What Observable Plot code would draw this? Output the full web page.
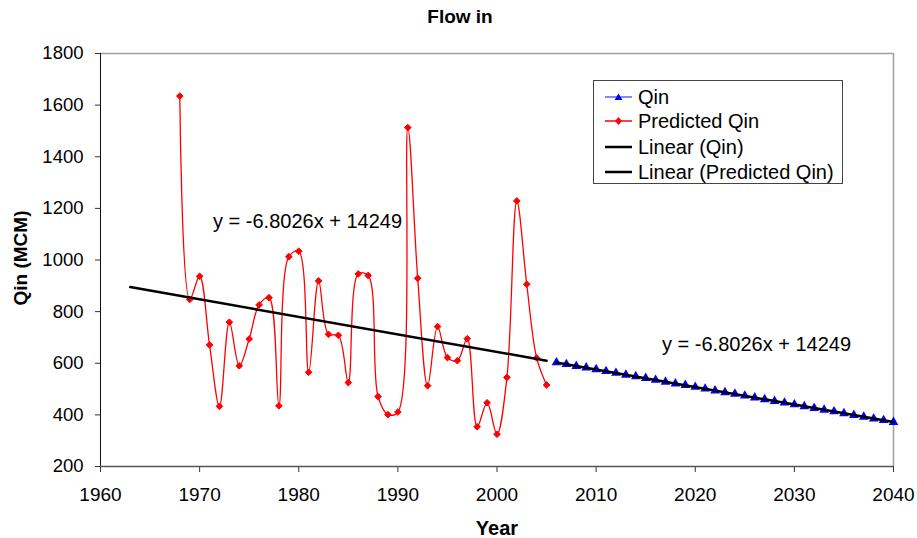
<!DOCTYPE html>
<html><head><meta charset="utf-8">
<script src="https://cdn.jsdelivr.net/npm/d3@7"></script>
<script src="https://cdn.jsdelivr.net/npm/@observablehq/plot@0.6"></script>
<style>
body{margin:0;background:#fff;font-family:Arial,"Liberation Sans",sans-serif}
#wrap{position:relative;width:917px;height:538px;overflow:hidden}
.abs{position:absolute;white-space:nowrap;color:#000;line-height:1}
#legend{position:absolute;left:593px;top:80px;width:250px;height:104px;border:1px solid #444;background:#fff;box-sizing:border-box}
.lrow{position:absolute;left:0;height:24px;display:flex;align-items:center;font-size:20px}
.lrow svg{margin-left:11px;margin-right:5px}
</style></head><body><div id="wrap"></div>
<script>
// ---- data ----
const predYears = [1968,1969,1970,1971,1972,1973,1974,1975,1976,1977,1978,1979,1980,1981,1982,1983,1984,1985,1986,1987,1988,1989,1990,1991,1992,1993,1994,1995,1996,1997,1998,1999,2000,2001,2002,2003,2004,2005];
const predQin = [1635,847,937,671,433,759,590,694,826,854,435,1013,1034,565,919,712,708,525,946,940,471,401,411,1513,929,513,742,622,610,695,354,447,325,545,1229,906,621,516];
const qinYears = [2006,2007,2008,2009,2010,2011,2012,2013,2014,2015,2016,2017,2018,2019,2020,2021,2022,2023,2024,2025,2026,2027,2028,2029,2030,2031,2032,2033,2034,2035,2036,2037,2038,2039,2040];
const qinValues = [603,596,589,583,576,569,562,555,549,542,535,528,521,515,508,501,494,487,481,474,467,460,453,447,440,433,426,419,413,406,399,392,385,379,372];
const trendPredYears = [1963,2005];
const trendPredValues = [895,610];
const trendQinYears = [2006,2040];
const trendQinValues = [603,372];
const xTicks = [1960,1970,1980,1990,2000,2010,2020,2030,2040];
const yTicks = [200,400,600,800,1000,1200,1400,1600,1800];
const equationText = "y = -6.8026x + 14249";

const pred = predYears.map((x,i)=>({x, y: predQin[i]}));
const qin = qinYears.map((x,i)=>({x, y: qinValues[i]}));
const tPred = trendPredYears.map((x,i)=>({x, y: trendPredValues[i]}));
const tQin = trendQinYears.map((x,i)=>({x, y: trendQinValues[i]}));

const chart = Plot.plot({
  width: 917, height: 538,
  marginLeft: 100, marginRight: 24, marginTop: 53, marginBottom: 72,
  style: {fontFamily: "Arial, 'Liberation Sans', sans-serif", fontSize: "19px", background: "#fff", color: "#000", overflow: "visible"},
  x: {domain: [1960, 2040]},
  y: {domain: [200, 1800]},
  marks: [
    Plot.ruleY([1800], {stroke: "#a0a0a0", strokeWidth: 1.5}),
    Plot.ruleX([2040], {stroke: "#a0a0a0", strokeWidth: 1.5}),
    Plot.axisX({ticks: xTicks, tickFormat: d => String(d), tickSize: 6, tickPadding: 15, fontSize: 19, label: null, stroke: "#333"}),
    Plot.axisY({ticks: yTicks, tickFormat: d => String(d), tickSize: 5, tickPadding: 12, fontSize: 18.5, label: null, stroke: "#333"}),
    Plot.ruleX([1960], {stroke: "#111", strokeWidth: 1}),
    Plot.ruleY([200], {stroke: "#555", strokeWidth: 1.5}),
    Plot.line(pred, {x: "x", y: "y", stroke: "#ff0000", strokeWidth: 1.3, curve: "catmull-rom"}),
    Plot.dot(pred, {x: "x", y: "y", symbol: "diamond2", r: 3, fill: "#ff0000", stroke: "#ff0000", strokeWidth: 1}),
    Plot.line(qin, {x: "x", y: "y", stroke: "#3344ff", strokeWidth: 1}),
    Plot.dot(qin, {x: "x", y: "y", symbol: "triangle", r: 3.6, fill: "#0000ff", stroke: "none"}),
    Plot.line(tPred, {x: "x", y: "y", stroke: "#000", strokeWidth: 2.5}),
    Plot.line(tQin, {x: "x", y: "y", stroke: "#000", strokeWidth: 2.5})
  ]
});
const wrap = document.getElementById("wrap");
chart.style.position = "absolute"; chart.style.left = "0"; chart.style.top = "0";
wrap.appendChild(chart);

function addText(txt, css) {
  const d = document.createElement("div");
  d.className = "abs";
  d.textContent = txt;
  Object.assign(d.style, css);
  wrap.appendChild(d);
  return d;
}
addText("Flow in", {left: "460px", top: "16px", transform: "translate(-50%,-50%)", fontWeight: "bold", fontSize: "19px"});
addText("Year", {left: "497px", top: "528px", transform: "translate(-50%,-50%)", fontWeight: "bold", fontSize: "20px"});
addText("Qin (MCM)", {left: "19.5px", top: "258px", transform: "translate(-50%,-50%) rotate(-90deg)", fontWeight: "bold", fontSize: "19px"});
addText(equationText, {left: "213px", top: "221px", transform: "translateY(-50%)", fontSize: "20px"});
addText(equationText, {left: "662px", top: "344px", transform: "translateY(-50%)", fontSize: "20px"});

// legend
const legendItems = [
  {label: "Qin", color: "#5566ff", marker: "triangle", mcolor: "#0000ff", top: 4},
  {label: "Predicted Qin", color: "#ff0000", marker: "diamond", mcolor: "#ff0000", top: 28},
  {label: "Linear (Qin)", color: "#000", marker: null, top: 54},
  {label: "Linear (Predicted Qin)", color: "#000", marker: null, top: 79}
];
const legend = document.createElement("div");
legend.id = "legend";
wrap.appendChild(legend);
legendItems.forEach(it => {
  const row = document.createElement("div");
  row.className = "lrow";
  row.style.top = it.top + "px";
  const sw = it.marker ? 1.5 : 2.5;
  let m = "";
  if (it.marker === "triangle") m = `<path d="M13.5,4.5 L17.5,11 L9.5,11 Z" fill="${it.mcolor}"/>`;
  if (it.marker === "diamond") m = `<path d="M13.5,4 L17,8 L13.5,12 L10,8 Z" fill="${it.mcolor}"/>`;
  row.innerHTML = `<svg width="28" height="16"><line x1="0" x2="27" y1="8" y2="8" stroke="${it.color}" stroke-width="${sw}"/>${m}</svg><span>${it.label}</span>`;
  legend.appendChild(row);
});
</script>
</body></html>
